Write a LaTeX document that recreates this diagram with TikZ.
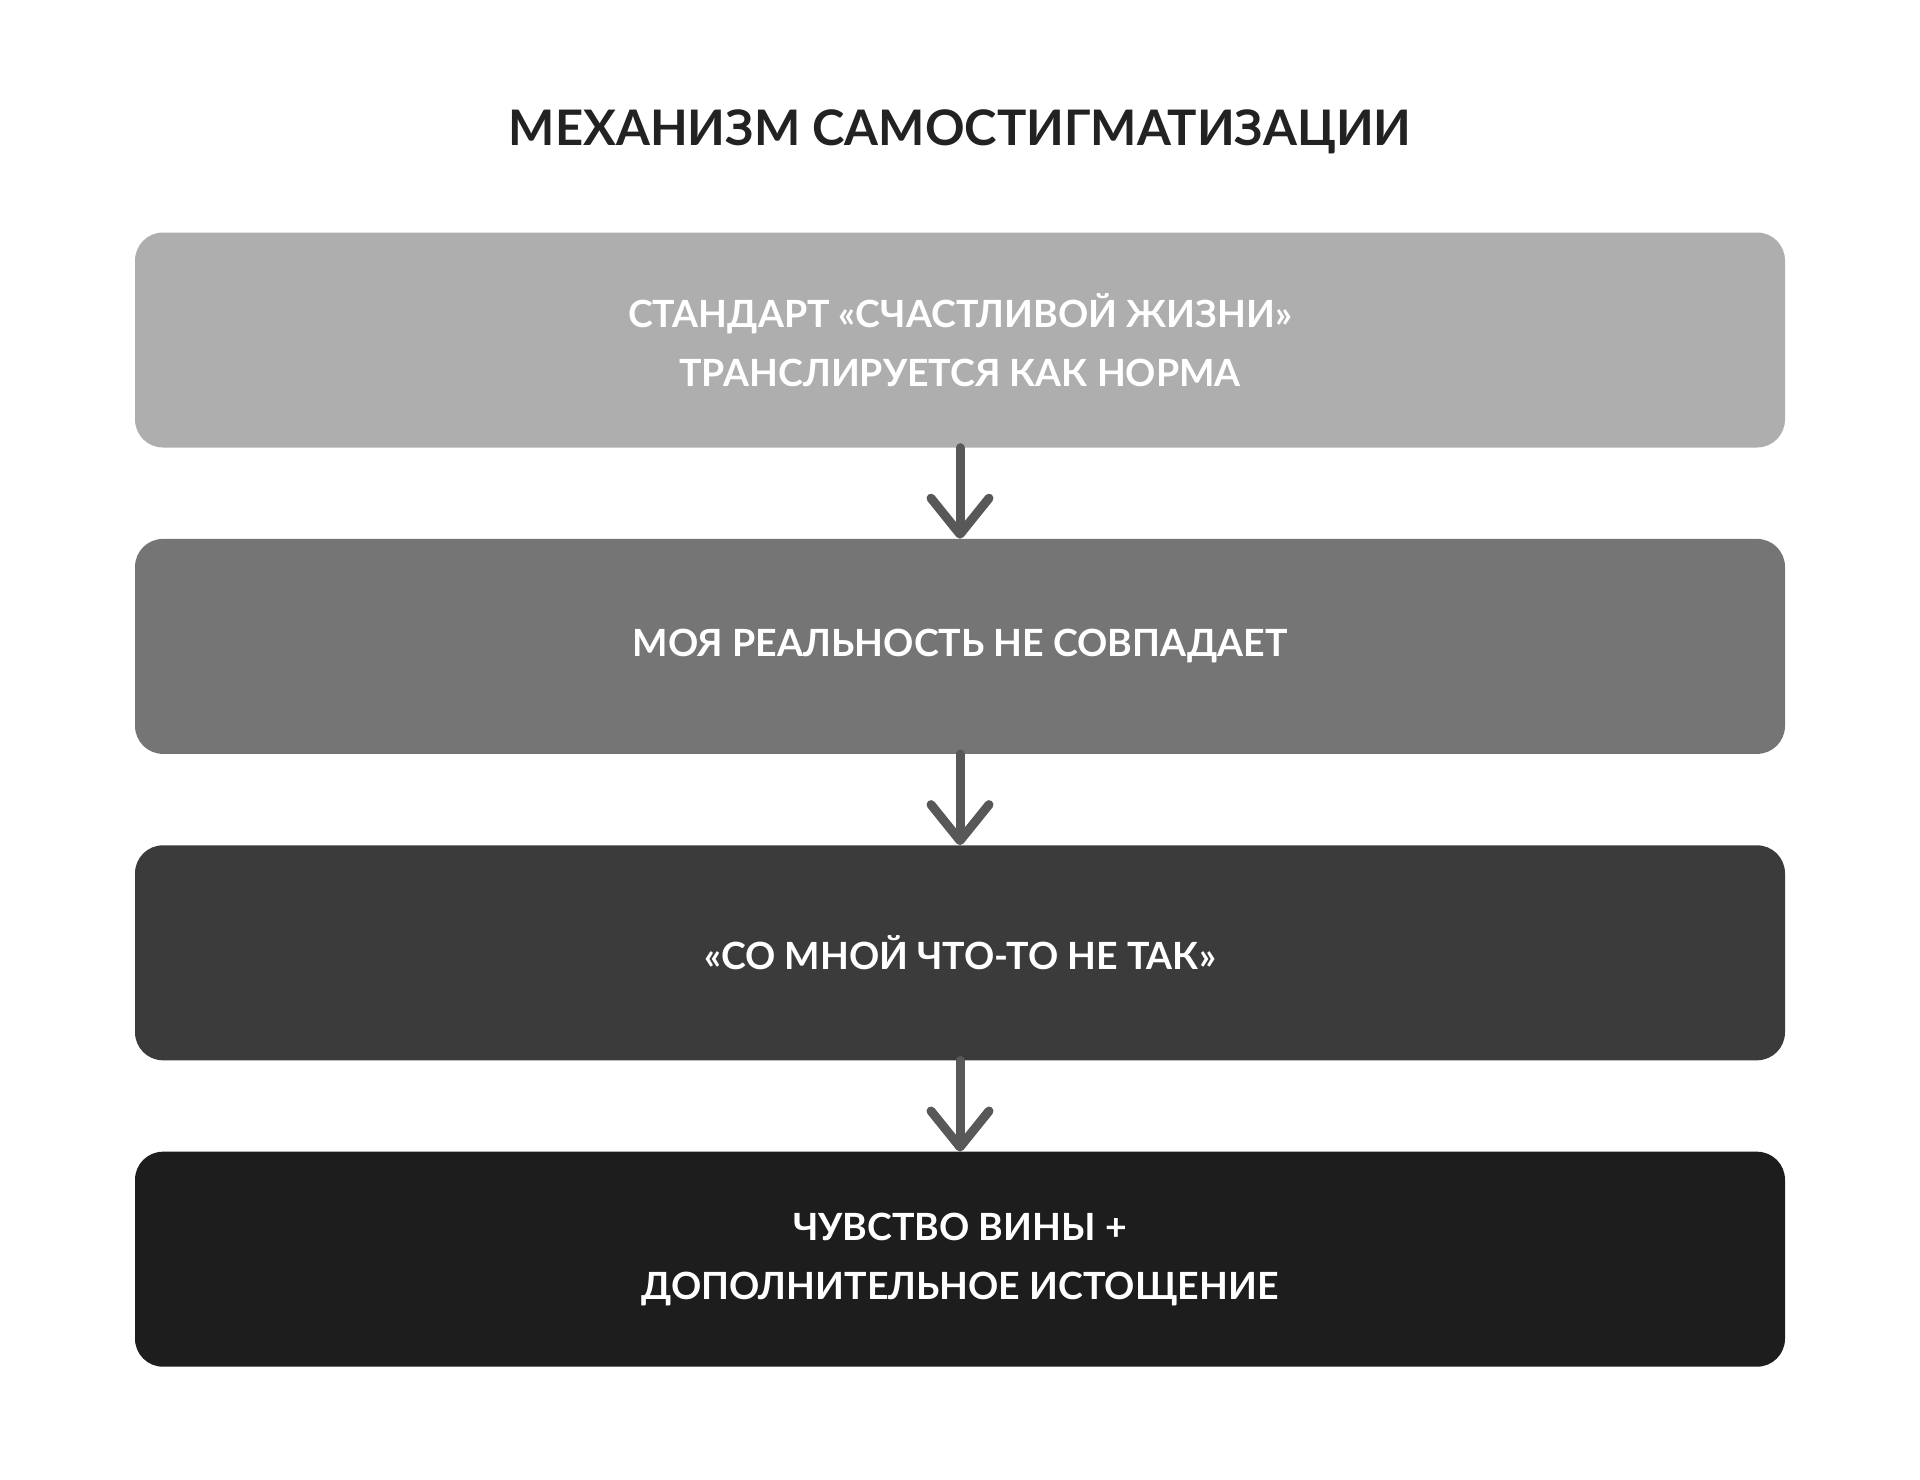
\documentclass[tikz,border=0pt]{standalone}
\usepackage{fontspec}
\setmainfont{Lato}
\usepackage{tikz}
\usetikzlibrary{arrows.meta,positioning}

\definecolor{stageA}{HTML}{AEAEAE}
\definecolor{stageB}{HTML}{757575}
\definecolor{stageC}{HTML}{3B3B3B}
\definecolor{stageD}{HTML}{1C1D1C}
\definecolor{linkgray}{HTML}{585858}
\definecolor{titlegray}{HTML}{222222}

\begin{document}
\begin{tikzpicture}[x=1pt,y=-1pt,node distance=91pt,
	stage/.style={rectangle,rounded corners=28pt,minimum width=1650pt,minimum height=215pt,inner sep=0pt,text=white,align=center,font=\bfseries\fontsize{37.5}{59}\selectfont},
	heading/.style={text=titlegray,font=\bfseries\fontsize{49}{60}\selectfont},
	link/.style={draw=linkgray,line width=9pt,line cap=round,-{Straight Barb[length=36pt,width=58pt,line cap=round,line join=round]}}]
	\useasboundingbox (0,0) rectangle (1920,1480);
	\node[heading] (title) at (960,132) {МЕХАНИЗМ САМОСТИГМАТИЗАЦИИ};
	\node[stage,fill=stageA] (norm) at (960,340) {СТАНДАРТ «СЧАСТЛИВОЙ ЖИЗНИ»\\ТРАНСЛИРУЕТСЯ КАК НОРМА};
	\node[stage,fill=stageB,below=of norm] (mismatch) {МОЯ РЕАЛЬНОСТЬ НЕ СОВПАДАЕТ};
	\node[stage,fill=stageC,below=of mismatch] (wrong) {«СО МНОЙ ЧТО-ТО НЕ ТАК»};
	\node[stage,fill=stageD,below=of wrong] (guilt) {ЧУВСТВО ВИНЫ +\\ДОПОЛНИТЕЛЬНОЕ ИСТОЩЕНИЕ};
	\draw[link] (norm) -- (mismatch);
	\draw[link] (mismatch) -- (wrong);
	\draw[link] (wrong) -- (guilt);
\end{tikzpicture}
\end{document}
